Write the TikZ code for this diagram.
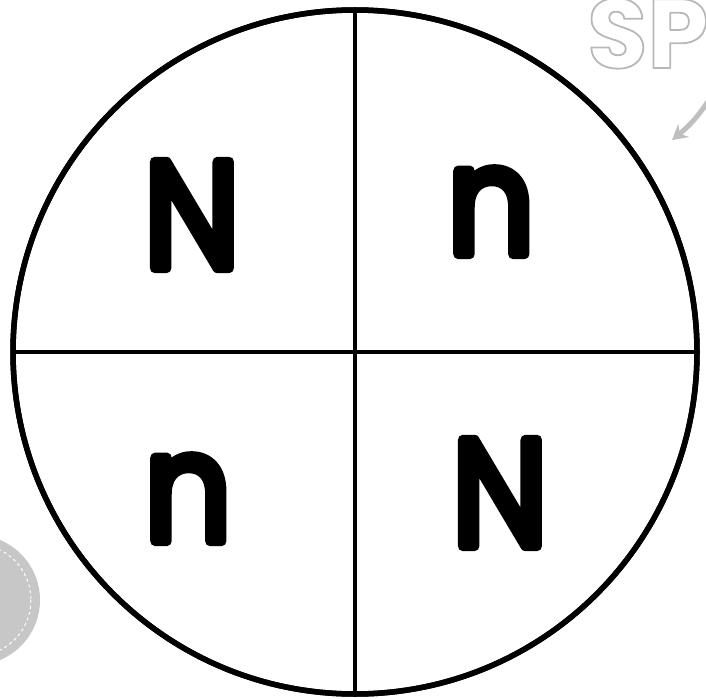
\documentclass[tikz,border=0pt]{standalone}
\usepackage{fontspec}
\setmainfont{Poppins}
\usetikzlibrary{arrows.meta}
\newcommand{\roundglyph}[1]{\special{pdf:code 2 Tr 1 j 1 J 10 w}\scalebox{0.9}[1]{#1}\special{pdf:code 0 Tr 0 j 0 J}}
\begin{document}
\begin{tikzpicture}[x=1pt,y=-1pt,
  letter/.style={anchor=base,inner sep=0pt,font=\fontsize{152}{152}\selectfont},
  rim/.style={line width=5.5pt,draw=black}]
\useasboundingbox (0,0) rectangle (706,698);
\begin{scope}
\clip (0,0) rectangle (706,698);
% faded background elements
\fill[black!22] (-25,600) circle (65);
\draw[white,dashed,line width=1pt] (-25,600) circle (56);
\node[anchor=base west,inner sep=0pt,font=\fontsize{98}{98}\selectfont\bfseries] (sp) at (587,68) {\special{pdf:code 1 Tr 0.72 G 1.8 w 1 j}SP\special{pdf:code 0 Tr 0 G 0 j}};
\coordinate (arrS) at (715,90);
\coordinate (arrE) at (672,140);
\draw[black!25,line width=5pt,-{Stealth[length=15pt,width=17pt]}] (arrS) to[bend left=10] (arrE);
\end{scope}
% circle and cross
\coordinate (c) at (355,352);
\draw[rim,fill=white] (c) circle (342);
\coordinate (top) at (355,10);
\coordinate (bot) at (355,694);
\coordinate (lft) at (13,352);
\coordinate (rgt) at (697,352);
\draw[line width=4pt] (top) -- (bot);
\draw[line width=4pt] (lft) -- (rgt);
\draw[rim] (c) circle (342);
% letters
\node[letter] (tl) at (192,268) {\roundglyph{N}};
\node[letter] (tr) at (491,254) {\roundglyph{n}};
\node[letter] (bl) at (188,541) {\roundglyph{n}};
\node[letter] (br) at (500,546) {\roundglyph{N}};
\end{tikzpicture}
\end{document}
